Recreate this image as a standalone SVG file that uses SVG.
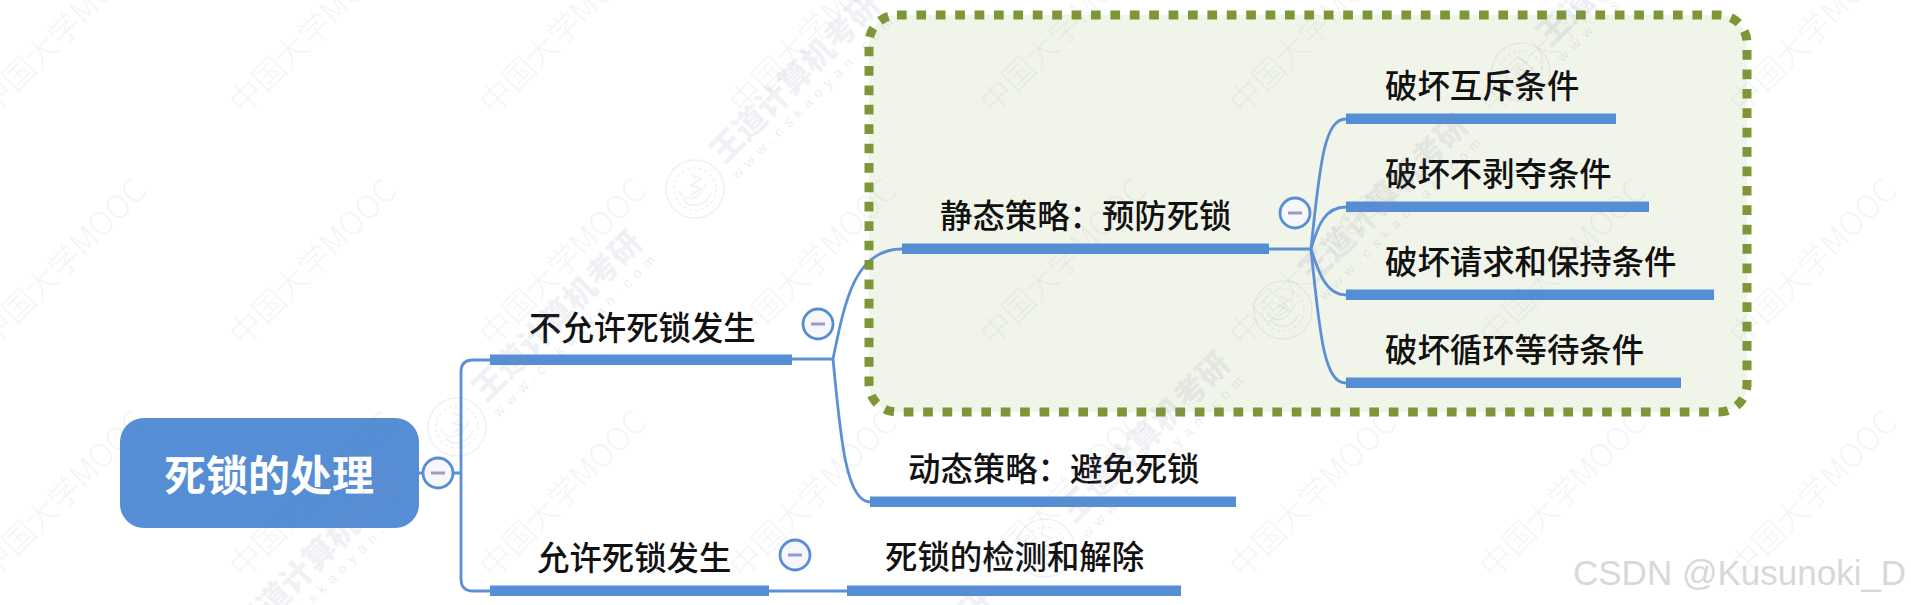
<svg xmlns="http://www.w3.org/2000/svg" width="1911" height="605" viewBox="0 0 1911 605">
<style>
text{font-family:"Noto Sans CJK SC","Liberation Sans",sans-serif}
.t{font-size:32.4px;font-weight:500;fill:#111}
.r{font-size:42px;font-weight:700;fill:#fff;text-anchor:middle}
.c{fill:none;stroke:#5b90d6;stroke-width:2.8}
.b{fill:#558ed5}
.o{fill:#f6f6fb;stroke:#558ed5;stroke-width:2.8}
.m{stroke:#9c9ccb;stroke-width:3}
.w1{font-size:32px;font-weight:300;fill:#8a8ab0;fill-opacity:.11}
.w2{font-size:32px;font-weight:900;fill:#8a8ab0;fill-opacity:.13}
.w3{font-size:14px;fill:#8a8ab0;fill-opacity:.18;letter-spacing:6.6px;font-family:"Liberation Sans",sans-serif}
.s{fill:none;stroke:#8a8ab0;stroke-opacity:.13;stroke-width:1.5}
</style>
<defs>
<text id="wm" class="w1" transform="rotate(-45)">中国大学MOOC</text>
<g id="wb">
<circle class="s" r="29"/><circle class="s" r="21" stroke-dasharray="3 3"/>
<path class="s" d="M-12 10C-6 20 10 18 16 4M-16 2C-10 14 4 12 12 -6M-4 -14L6 -10L-4 -4L6 0L-4 6"/>
<text class="w2" transform="translate(29,-24) rotate(-45)">王道计算机考研</text>
<text class="w3" transform="translate(42,-9) rotate(-45)">www.cskaoyan.com</text>
</g>
</defs>
<rect x="869" y="15" width="878" height="397" rx="28" fill="#f1f5e9"/>
<g id="connectors">
<path class="c" d="M419 473H461M461 473V372Q461 360 473 360H490M461 473V579Q461 591 473 591H490"/>
<path class="c" d="M792 359H833M833 359C845 300 855 249 902 249M833 359C840 430 845 502 870 502"/>
<path class="c" d="M769 591H847"/>
<path class="c" d="M1269 249H1311M1311 249C1320 160 1325 119 1346 119M1311 249C1318 225 1325 207 1346 207M1311 249C1318 270 1325 295 1346 295M1311 249C1320 340 1325 383 1346 383"/>
</g>
<rect id="boundary" x="869" y="15" width="878" height="397" rx="28" fill="none" stroke="#7d9638" stroke-width="9" stroke-dasharray="9.7 9.7"/>
<g id="root"><rect x="120" y="418" width="299" height="110" rx="24" fill="#558ed5"/><text class="r" x="269" y="491">死锁的处理</text><circle class="o" cx="438" cy="473" r="15"/><path class="m" d="M431 473H445"/></g>
<g id="n1"><rect class="b" x="490" y="354.500" width="302" height="10.500"/><text class="t" x="529" y="340">不允许死锁发生</text><circle class="o" cx="818" cy="324" r="15"/><path class="m" d="M811 324H825"/></g>
<g id="n2"><rect class="b" x="490" y="585.500" width="279" height="10.500"/><text class="t" x="537" y="570">允许死锁发生</text><circle class="o" cx="795" cy="555" r="15"/><path class="m" d="M788 555H802"/></g>
<g id="n3"><rect class="b" x="902" y="243.500" width="367" height="10.500"/><text class="t" x="940" y="228">静态策略&#xFF1A;预防死锁</text><circle class="o" cx="1295" cy="213" r="15"/><path class="m" d="M1288 213H1302"/></g>
<g id="n4"><rect class="b" x="870" y="496.500" width="366" height="10.500"/><text class="t" x="908" y="481">动态策略&#xFF1A;避免死锁</text></g>
<g id="n5"><rect class="b" x="847" y="585.500" width="334" height="10.500"/><text class="t" x="885" y="569">死锁的检测和解除</text></g>
<g id="n6"><rect class="b" x="1346" y="113.500" width="270" height="10.500"/><text class="t" x="1385" y="98">破坏互斥条件</text></g>
<g id="n7"><rect class="b" x="1346" y="201.500" width="303" height="10.500"/><text class="t" x="1385" y="186">破坏不剥夺条件</text></g>
<g id="n8"><rect class="b" x="1346" y="289.500" width="368" height="10.500"/><text class="t" x="1385" y="274">破坏请求和保持条件</text></g>
<g id="n9"><rect class="b" x="1346" y="377.500" width="335" height="10.500"/><text class="t" x="1385" y="362">破坏循环等待条件</text></g>
<g id="watermark">
<use href="#wm" transform="translate(-7,116)"/><use href="#wm" transform="translate(243,116)"/><use href="#wm" transform="translate(493,116)"/><use href="#wm" transform="translate(743,116)"/><use href="#wm" transform="translate(993,116)"/><use href="#wm" transform="translate(1243,116)"/><use href="#wm" transform="translate(1493,116)"/><use href="#wm" transform="translate(1743,116)"/>
<use href="#wm" transform="translate(-7,348)"/><use href="#wm" transform="translate(243,348)"/><use href="#wm" transform="translate(493,348)"/><use href="#wm" transform="translate(743,348)"/><use href="#wm" transform="translate(993,348)"/><use href="#wm" transform="translate(1243,348)"/><use href="#wm" transform="translate(1493,348)"/><use href="#wm" transform="translate(1743,348)"/>
<use href="#wm" transform="translate(-7,580)"/><use href="#wm" transform="translate(243,580)"/><use href="#wm" transform="translate(493,580)"/><use href="#wm" transform="translate(743,580)"/><use href="#wm" transform="translate(993,580)"/><use href="#wm" transform="translate(1243,580)"/><use href="#wm" transform="translate(1493,580)"/><use href="#wm" transform="translate(1743,580)"/>
<use href="#wb" transform="translate(219,665)"/><use href="#wb" transform="translate(457,427)"/><use href="#wb" transform="translate(695,189)"/>
<use href="#wb" transform="translate(807,786)"/><use href="#wb" transform="translate(1045,548)"/><use href="#wb" transform="translate(1283,310)"/><use href="#wb" transform="translate(1521,72)"/>
</g>
<text id="credit" x="1573" y="585" font-size="35" style="font-family:'Liberation Sans',sans-serif" fill="#d8d8d8">CSDN @Kusunoki_D</text>
</svg>
